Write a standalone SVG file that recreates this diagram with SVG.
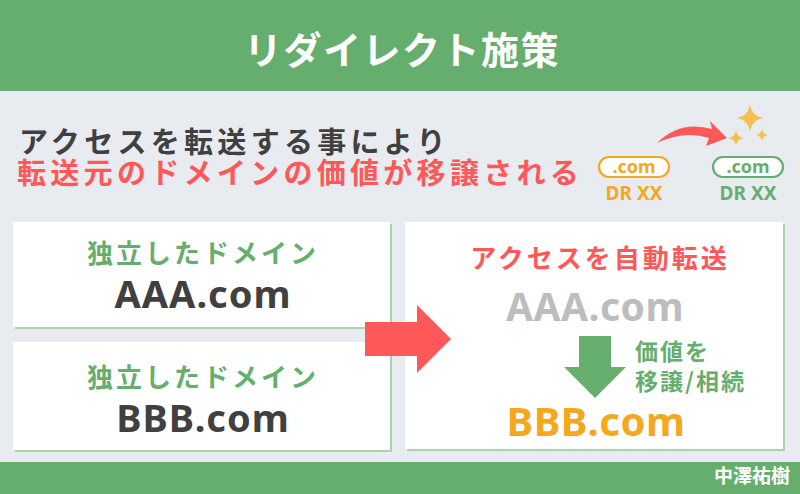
<svg xmlns="http://www.w3.org/2000/svg" width="800" height="494" viewBox="0 0 800 494">
<style>
.jp{font-family:"Noto Sans CJK JP","Noto Sans",sans-serif;font-weight:700}
.la{font-family:"Noto Sans","Open Sans","Noto Sans CJK JP",sans-serif;font-weight:700}
.box{fill:#ffffff}
.shadow{fill:#a9d3ac}
.green{fill:#66ae6e}
.red{fill:#ff5858}
.orange{fill:#f5a81e}
.dark{fill:#404040}
</style>
<rect x="0" y="0" width="800" height="494" fill="#e8ebf0"/>
<g id="header">
<rect x="0" y="0" width="800" height="91" class="green"/>
<text x="402" y="64" text-anchor="middle" class="jp" font-size="38" letter-spacing="1.5" fill="#ffffff">リダイレクト施策</text>
</g>
<g id="lead">
<text x="19" y="153" class="jp dark" font-size="29" letter-spacing="4.3">アクセスを転送する事により</text>
<text x="17" y="184" class="jp red" font-size="29" letter-spacing="4.3">転送元のドメインの価値が移譲される</text>
</g>
<g id="icon">
<rect x="599" y="157" width="70" height="20" rx="10" fill="#ffffff" stroke="#f5a81e" stroke-width="2.2"/>
<text x="634" y="173" text-anchor="middle" class="la" font-size="18" fill="#f5a81e">.com</text>
<text x="634" y="200" text-anchor="middle" class="la" font-size="19" fill="#f5a81e">DR XX</text>
<rect x="713" y="157" width="70" height="20" rx="10" fill="#ffffff" stroke="#66ae6e" stroke-width="2.2"/>
<text x="748" y="173" text-anchor="middle" class="la" font-size="18" fill="#66ae6e">.com</text>
<text x="748" y="200" text-anchor="middle" class="la" font-size="19" fill="#66ae6e">DR XX</text>
<path d="M657,143 Q680,120 712,129 L710,121 L727,138 L706,146 L709,138 Q684,130 657,143 Z" class="red"/>
<path d="M750,105 Q752,116 763,118 Q752,120 750,131 Q748,120 737,118 Q748,116 750,105 Z" fill="#f6c04e"/>
<path d="M736,130 Q737,137 744,138 Q737,139 736,146 Q735,139 728,138 Q735,137 736,130 Z" fill="#f6c04e"/>
<path d="M762,129 Q763,134 768,135 Q763,136 762,141 Q761,136 756,135 Q761,134 762,129 Z" fill="#f6c04e"/>
</g>
<g id="domainA">
<rect x="15" y="224" width="377" height="105" class="shadow"/>
<rect x="13" y="222" width="377" height="105" class="box"/>
<text x="203" y="263" text-anchor="middle" class="jp green" font-size="26" letter-spacing="3">独立したドメイン</text>
<text x="203" y="308" text-anchor="middle" class="la dark" font-size="38" letter-spacing="1">AAA.com</text>
</g>
<g id="domainB">
<rect x="15" y="344" width="377" height="108" class="shadow"/>
<rect x="13" y="342" width="377" height="108" class="box"/>
<text x="203" y="387" text-anchor="middle" class="jp green" font-size="26" letter-spacing="3">独立したドメイン</text>
<text x="203" y="432" text-anchor="middle" class="la dark" font-size="38" letter-spacing="1">BBB.com</text>
</g>
<g id="redirect">
<rect x="407" y="224" width="378" height="227" class="shadow"/>
<rect x="405" y="222" width="378" height="227" class="box"/>
<text x="600" y="268" text-anchor="middle" class="jp red" font-size="26" letter-spacing="3">アクセスを自動転送</text>
<text x="595" y="321" text-anchor="middle" class="la" font-size="39" letter-spacing="0.5" fill="#bdbdbd">AAA.com</text>
<text x="596" y="436" text-anchor="middle" class="la orange" font-size="40" letter-spacing="0.5">BBB.com</text>
<text x="635" y="360" class="jp green" font-size="23" letter-spacing="2">価値を</text>
<text x="635" y="390" class="jp green" font-size="23" letter-spacing="2">移譲/相続</text>
</g>
<g id="connectors">
<path d="M365,322 L417,322 L417,305 L451,339 L417,373 L417,356 L365,356 Z" class="red"/>
<path d="M579,336 L611,336 L611,367 L626,367 L595,398 L564,367 L579,367 Z" class="green"/>
</g>
<g id="footer">
<rect x="0" y="462" width="800" height="32" class="green"/>
<text x="790" y="483" text-anchor="end" class="jp" font-size="19" fill="#ffffff">中澤祐樹</text>
</g>
</svg>
